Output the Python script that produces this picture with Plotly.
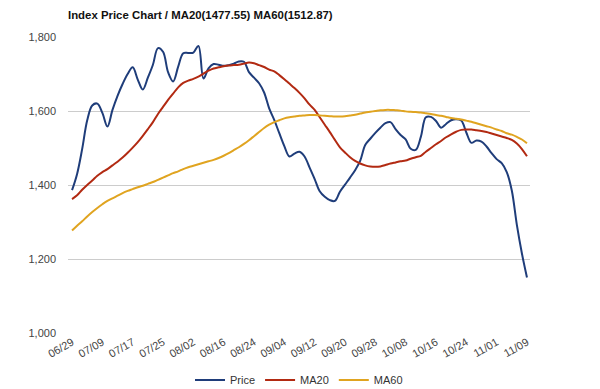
import plotly.graph_objects as go

tick_labels = ["06/29", "07/09", "07/17", "07/25", "08/02", "08/16", "08/24", "09/04",
               "09/12", "09/20", "09/28", "10/08", "10/16", "10/24", "11/01", "11/09"]

price = [1386, 1430, 1497, 1575, 1615, 1620, 1595, 1558, 1603, 1641,
         1673, 1700, 1718, 1685, 1658, 1690, 1725, 1770, 1760, 1705,
         1680, 1720, 1756, 1757, 1758, 1776, 1688, 1715, 1727, 1725,
         1722, 1724, 1728, 1734, 1733, 1705, 1690, 1675, 1650, 1607,
         1576, 1540, 1505, 1477, 1485, 1490, 1477, 1447, 1416, 1383,
         1368, 1359, 1357, 1382, 1401, 1420, 1440, 1465, 1508, 1525,
         1541, 1555, 1567, 1570, 1551, 1535, 1523, 1498, 1495, 1530,
         1583, 1584, 1573, 1555, 1565, 1575, 1578, 1574, 1542, 1514,
         1520, 1517, 1504, 1486, 1470, 1459, 1435, 1385, 1292, 1215,
         1150]

ma20 = [1362, 1372, 1387, 1400, 1412, 1425, 1435, 1443, 1453, 1463,
        1474, 1487, 1501, 1516, 1533, 1551, 1570, 1592, 1611, 1630,
        1647, 1664, 1676, 1682, 1687, 1693, 1701, 1709, 1715, 1718,
        1721, 1723, 1724, 1725, 1728, 1731, 1729, 1724, 1719, 1712,
        1707, 1697, 1686, 1674, 1662, 1649, 1634, 1617, 1603, 1583,
        1563, 1543, 1522, 1502, 1488, 1475, 1465, 1458, 1453, 1450,
        1449, 1450, 1454, 1458, 1461, 1464, 1466, 1471, 1475, 1479,
        1490, 1500, 1510, 1519, 1529, 1537, 1544, 1549, 1550, 1550,
        1548, 1546, 1543, 1539, 1535, 1531, 1527, 1522, 1512, 1497,
        1477.55]

ma60 = [1277, 1290, 1302, 1315, 1327, 1338, 1348, 1357, 1364, 1371,
        1378, 1384, 1389, 1394, 1398, 1403, 1408, 1414, 1420, 1426,
        1432, 1437, 1443, 1448, 1452, 1456, 1460, 1464, 1468, 1473,
        1479, 1486, 1494, 1502, 1511, 1521, 1532, 1543, 1554, 1563,
        1570, 1575, 1580, 1583, 1585, 1587, 1588, 1589, 1589, 1588,
        1587, 1586, 1585, 1585, 1586, 1588, 1590, 1593, 1596, 1598,
        1600, 1602, 1603, 1603, 1602, 1601, 1599, 1598, 1597, 1596,
        1594, 1592, 1589, 1587, 1584, 1581, 1579, 1577, 1574, 1571,
        1567, 1563, 1559, 1555, 1550, 1546, 1540, 1536, 1530, 1523,
        1512.87]

x = list(range(len(price)))
tick_step = (len(price) - 1) // (len(tick_labels) - 1)
tick_vals = [i * tick_step for i in range(len(tick_labels))]

fig = go.Figure()
series = [("Price", price, "#1f3d7a"), ("MA20", ma20, "#b22a12"), ("MA60", ma60, "#e0a420")]
for name, vals, color in series:
    fig.add_trace(go.Scatter(x=x, y=vals, mode="lines", name=name,
                             line=dict(color=color, width=2, shape="spline", smoothing=1.0)))

fig.update_layout(
    width=600, height=389,
    margin=dict(l=68, r=70, t=37, b=56, autoexpand=False),
    paper_bgcolor="white", plot_bgcolor="white",
    font=dict(family="Liberation Sans, Arial, sans-serif", size=11, color="#444444"),
    title=dict(text="<b>Index Price Chart / MA20(1477.55) MA60(1512.87)</b>",
               x=68 / 600, xref="container", xanchor="left",
               y=1 - 15 / 389, yref="container", yanchor="middle",
               font=dict(size=11.4, color="#111111")),
    showlegend=True,
    legend=dict(orientation="h", x=0.5, xanchor="center", y=-47 / 296, yanchor="middle",
                font=dict(size=11, color="#333333"), itemwidth=30),
    xaxis=dict(range=[-0.8, 90.6], tickmode="array", tickvals=tick_vals, ticktext=tick_labels,
               tickangle=-30, showgrid=False, zeroline=False, showline=False, ticks="",
               automargin=False, tickfont=dict(size=11, color="#444444")),
    yaxis=dict(range=[1000, 1800], dtick=200, tickformat=",d", showgrid=True,
               gridcolor="#cccccc", gridwidth=1, zeroline=False, showline=False, ticks="",
               automargin=False, ticklabelstandoff=11, tickfont=dict(size=11, color="#444444")),
)

fig.write_html("out.html", config={"displayModeBar": False},
               post_script="document.body.style.margin='0';document.body.style.overflow='hidden';")
